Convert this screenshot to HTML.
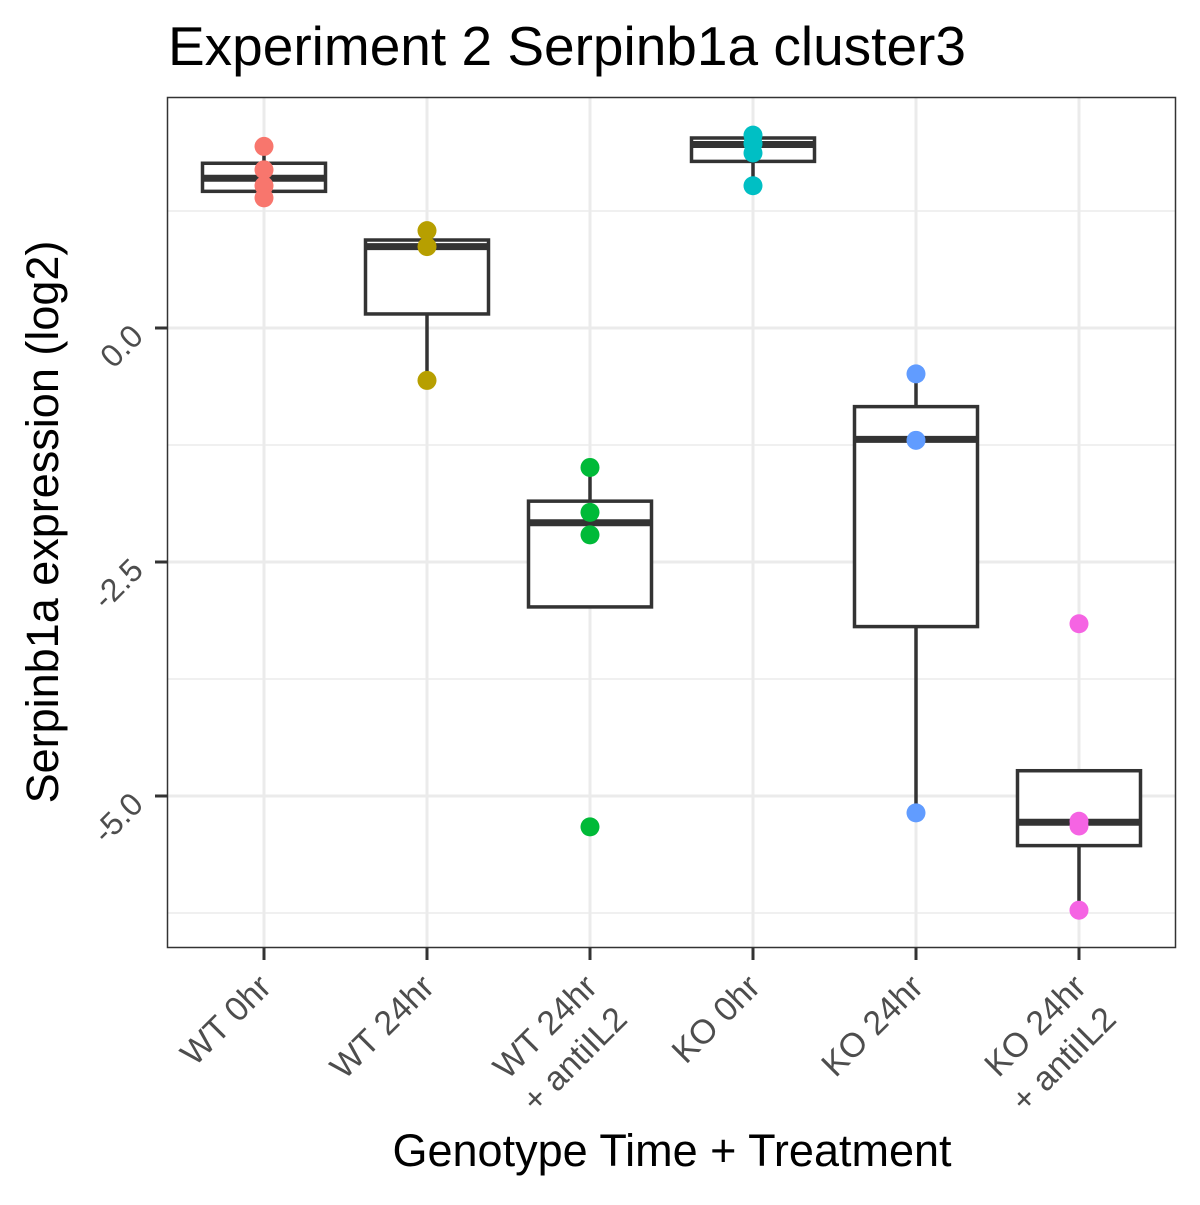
<!DOCTYPE html>
<html><head><meta charset="utf-8"><style>
html,body{margin:0;padding:0;background:#fff;}
svg text{font-family:"Liberation Sans",sans-serif;}
</style></head><body>
<svg id="chart" width="1200" height="1200" xmlns="http://www.w3.org/2000/svg">
<rect width="1200" height="1200" fill="#fff"/>
<text x="168" y="65" font-size="55" fill="#000">Experiment 2 Serpinb1a cluster3</text>
<g id="grid"></g>
<g id="boxes"></g>
<g id="points"></g>
<rect x="167.5" y="97.5" width="1008" height="850" fill="none" stroke="#333" stroke-width="1.5"/>
<g id="axes"></g>
<text transform="translate(58,522) rotate(-90)" text-anchor="middle" font-size="45" fill="#000">Serpinb1a expression (log2)</text>
<text x="672" y="1166" text-anchor="middle" font-size="45" fill="#000">Genotype Time + Treatment</text>
</svg>
<script>
const categories = [["WT 0hr"],["WT 24hr"],["WT 24hr","+ antiIL2"],["KO 0hr"],["KO 24hr"],["KO 24hr","+ antiIL2"]];
const colors = ["#F8766D","#B79F00","#00BA38","#00BFC4","#619CFF","#F564E3"];
const q1 = [1.46,0.15,-2.98,1.78,-3.19,-5.53];
const medians = [1.60,0.87,-2.08,1.96,-1.19,-5.28];
const q3 = [1.76,0.94,-1.85,2.03,-0.84,-4.73];
const whiskLo = [1.39,-0.56,-2.21,1.52,-5.18,-6.22];
const whiskHi = [1.94,1.04,-1.49,2.06,-0.49,-4.73];
const pointValues = [[1.94,1.69,1.52,1.39],[1.04,0.87,-0.56],[-1.49,-1.97,-2.21,-5.33],[2.06,1.97,1.87,1.52],[-0.49,-1.20,-5.18],[-3.16,-5.27,-5.32,-6.22]];
const majorTicks = [0,-2.5,-5];
const tickLabels = ["0.0","-2.5","-5.0"];
const minorTicks = [1.25,-1.25,-3.75,-6.25];

const NS="http://www.w3.org/2000/svg";
function yS(v){return 328 - v*93.6;}
function xS(i){return 264 + i*163;}
function mk(tag,attrs,parent){const e=document.createElementNS(NS,tag);for(const k in attrs)e.setAttribute(k,attrs[k]);document.getElementById(parent).appendChild(e);return e;}

minorTicks.forEach(v=>{const l=mk('line',{x1:167,x2:1176,y1:yS(v),y2:yS(v),stroke:'#ebebeb','stroke-width':1.5},'grid');

});
majorTicks.forEach(v=>{const l=mk('line',{x1:167,x2:1176,y1:yS(v),y2:yS(v),stroke:'#ebebeb','stroke-width':3},'grid');

});
categories.forEach((c,i)=>{const l=mk('line',{x1:xS(i),x2:xS(i),y1:97,y2:948,stroke:'#ebebeb','stroke-width':3},'grid');

});

categories.forEach((c,i)=>{
 const x=xS(i),hw=61.5;
 const g=mk('g',{},'boxes');
 
 
 const w1=document.createElementNS(NS,'line');
 [['x1',x],['x2',x],['y1',yS(q3[i])],['y2',yS(whiskHi[i])],['stroke','#333'],['stroke-width',3.5]].forEach(a=>w1.setAttribute(a[0],a[1]));
 
 
 g.appendChild(w1);
 const w2=document.createElementNS(NS,'line');
 [['x1',x],['x2',x],['y1',yS(q1[i])],['y2',yS(whiskLo[i])],['stroke','#333'],['stroke-width',3.5]].forEach(a=>w2.setAttribute(a[0],a[1]));
 
 
 g.appendChild(w2);
 const r=document.createElementNS(NS,'rect');
 [['x',x-hw],['y',yS(q3[i])],['width',2*hw],['height',yS(q1[i])-yS(q3[i])],['fill','#fff'],['stroke','#333'],['stroke-width',3.5]].forEach(a=>r.setAttribute(a[0],a[1]));
 
 
 g.appendChild(r);
 const m=document.createElementNS(NS,'line');
 [['x1',x-hw],['x2',x+hw],['y1',yS(medians[i])],['y2',yS(medians[i])],['stroke','#333'],['stroke-width',7]].forEach(a=>m.setAttribute(a[0],a[1]));
 
 
 g.appendChild(m);
 pointValues[i].forEach(v=>{const p=mk('circle',{cx:x,cy:yS(v),r:9.5,fill:colors[i]},'points');
 
 });
});

majorTicks.forEach((v,j)=>{
 const t=mk('line',{x1:155,x2:167,y1:yS(v),y2:yS(v),stroke:'#333','stroke-width':3},'axes');
 
 
 const tx=mk('text',{transform:`translate(145,${yS(v)+10}) rotate(-45)`,'text-anchor':'end','font-size':32,fill:'#4d4d4d'},'axes');
 tx.textContent=tickLabels[j];
 
 
});
categories.forEach((c,i)=>{
 const x=xS(i);
 const t=mk('line',{x1:x,x2:x,y1:948,y2:960,stroke:'#333','stroke-width':3},'axes');
 
 
 c.forEach((line,k)=>{
  const tx=mk('text',{transform:`translate(${x+9+k*30},${989+k*32}) rotate(-45)`,'text-anchor':'end','font-size':34,fill:'#4d4d4d'},'axes');
  tx.textContent=line;
  
  
 });
});
</script>
</body></html>
